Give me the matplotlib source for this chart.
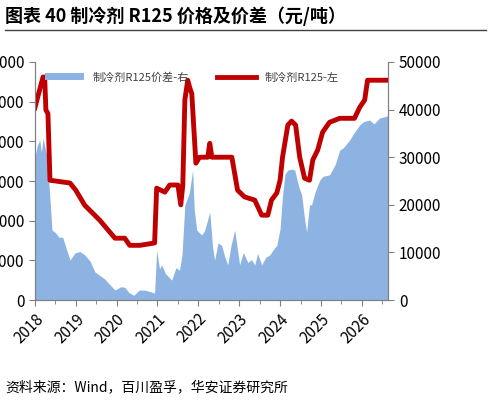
import numpy as np
import matplotlib.pyplot as plt

plt.rcParams['font.family'] = ['Noto Sans CJK SC', 'DejaVu Sans']

# R125 price (left axis), yuan/ton
line_x = [2018.0, 2018.12, 2018.2, 2018.24, 2018.27, 2018.32, 2018.37, 2018.86, 2019.0, 2019.22,
          2019.59, 2019.96, 2020.2, 2020.32, 2020.57, 2020.93, 2020.98, 2021.18, 2021.3, 2021.5,
          2021.57, 2021.62, 2021.67, 2021.74, 2021.79, 2021.84, 2021.94, 2022.03, 2022.23, 2022.28,
          2022.33, 2022.82, 2022.96, 2023.13, 2023.38, 2023.55, 2023.7, 2023.79, 2023.92, 2024.0,
          2024.06, 2024.19, 2024.28, 2024.38, 2024.48, 2024.6, 2024.72, 2024.8, 2024.92, 2025.04,
          2025.21, 2025.46, 2025.82, 2025.95, 2026.07, 2026.14, 2026.63]
line_y = [48400, 53100, 56200, 56200, 47900, 47000, 30200, 29500, 27700, 23900,
          20100, 15600, 15600, 13800, 13800, 14400, 28200, 27200, 29000, 29000,
          24000, 29000, 50400, 55400, 53500, 52000, 34500, 36000, 36000, 39500,
          36000, 36000, 27700, 26000, 25200, 21400, 21400, 25200, 27000, 30200,
          36000, 44100, 45100, 44100, 36000, 30700, 30200, 35300, 37800, 42300,
          44800, 45800, 45800, 48600, 50400, 55400, 55400]

# R125 spread (right axis)
area_x = [2018.0, 2018.06, 2018.12, 2018.16, 2018.2, 2018.3, 2018.42, 2018.5, 2018.59, 2018.68,
          2018.78, 2018.86, 2018.98, 2019.1, 2019.22, 2019.35, 2019.47, 2019.7, 2019.96, 2020.1,
          2020.2, 2020.3, 2020.42, 2020.55, 2020.69, 2020.93, 2020.98, 2021.05, 2021.1, 2021.2,
          2021.35, 2021.45, 2021.54, 2021.6, 2021.67, 2021.78, 2021.86, 2021.9, 2021.96, 2022.08,
          2022.15, 2022.28, 2022.35, 2022.4, 2022.48, 2022.57, 2022.65, 2022.72, 2022.8, 2022.89,
          2023.01, 2023.1, 2023.21, 2023.3, 2023.38, 2023.45, 2023.55, 2023.65, 2023.75, 2023.85,
          2023.92, 2024.0, 2024.06, 2024.12, 2024.19, 2024.28, 2024.36, 2024.45, 2024.53, 2024.6,
          2024.65, 2024.72, 2024.77, 2024.85, 2024.97, 2025.05, 2025.21, 2025.35, 2025.46, 2025.55,
          2025.7, 2025.8, 2025.95, 2026.05, 2026.19, 2026.3, 2026.43, 2026.55, 2026.63]
area_y = [30000, 32500, 33600, 31000, 34000, 30000, 14700, 14200, 13200, 13200,
          10500, 8400, 9900, 10200, 9500, 8200, 5900, 4500, 2100, 2800,
          2700, 1600, 1000, 2100, 2100, 1500, 10500, 6500, 7400, 5500,
          4200, 6800, 6300, 9500, 20000, 22500, 27300, 19000, 14700, 13700,
          14500, 18500, 11000, 8400, 12000, 11500, 9000, 7400, 11500, 14700,
          7400, 10000, 7900, 8500, 7400, 9800, 7400, 9000, 9500, 10800,
          11500, 15000, 22000, 26500, 27300, 27500, 27300, 24000, 22000, 17000,
          14300, 20000, 20000, 22500, 25200, 26000, 26300, 28500, 31500, 32000,
          33600, 35000, 36800, 37500, 37800, 37000, 38200, 38500, 38700]

fig = plt.figure(figsize=(4.91, 4.05), dpi=100)
ax = fig.add_axes([0.071, 0.259, 0.72, 0.588])
ax2 = ax.twinx()
ax.set_zorder(2)
ax.patch.set_visible(False)

ax2.fill_between(area_x, area_y, color='#8db3e2', lw=0, label='制冷剂R125价差-右')
ax.plot(line_x, line_y, color='#c00000', lw=3.5, label='制冷剂R125-左')

ax.set_xlim(2018, 2026.65)
ax.set_ylim(0, 60000)
ax2.set_ylim(0, 50000)
ax.set_yticks(np.arange(0, 60001, 10000))
ax2.set_yticks(np.arange(0, 50001, 10000))
years = list(range(2018, 2027))
ax.set_xticks(years)
ax.set_xticklabels([str(y) for y in years], rotation=45, ha='right', rotation_mode='anchor')
ax.set_xticks(np.arange(2018.5, 2026.6, 1), minor=True)
for a in (ax, ax2):
    a.tick_params(labelsize=11, colors='#000000', length=4, color='#808080')
    a.tick_params(which='minor', length=3, color='#808080')
    for s in a.spines.values():
        s.set_color('#808080')
    a.spines['top'].set_visible(False)

h1, l1 = ax2.get_legend_handles_labels()
h2, l2 = ax.get_legend_handles_labels()
ax.legend(h1 + h2, l1 + l2, loc='upper left', ncol=2, frameon=False, fontsize=8,
          bbox_to_anchor=(0.0, 1.0), columnspacing=2.5, handlelength=3.5, labelcolor='#404040')

fig.text(0.01, 0.96, '图表 40 制冷剂 R125 价格及价差（元/吨）', fontsize=13, fontweight='bold', va='center')
fig.add_artist(plt.Line2D([0.01, 0.99], [0.925, 0.925], color='#404040', lw=1))
fig.text(0.01, 0.045, '资料来源：Wind，百川盈孚，华安证券研究所', fontsize=10, va='center')

fig.savefig('out.png', dpi=100)
